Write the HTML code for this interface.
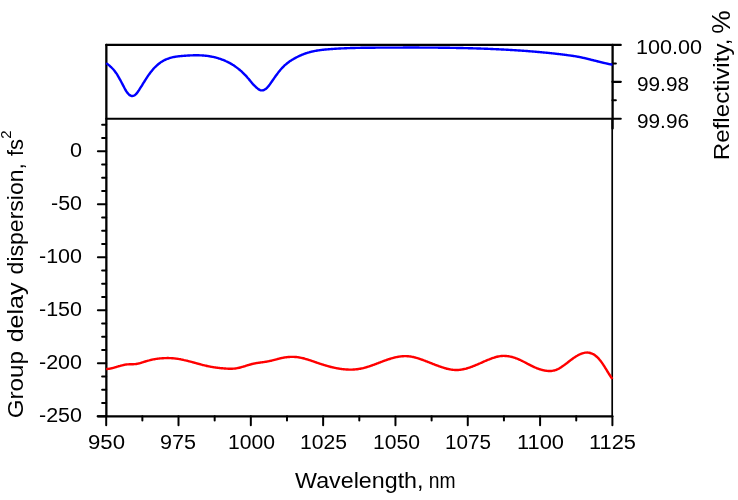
<!DOCTYPE html>
<html><head><meta charset="utf-8"><style>
html,body{margin:0;padding:0;background:#fff;width:738px;height:500px;overflow:hidden}
svg{display:block;will-change:transform}
text{font-family:"Liberation Sans", "DejaVu Sans", sans-serif;fill:#000}
</style></head><body>
<svg width="738" height="500" viewBox="0 0 738 500">
<rect width="738" height="500" fill="#fff"/>
<line x1="106.35" y1="44.90" x2="106.35" y2="416.30" stroke="#000" stroke-width="2.30" stroke-linecap="round"/>
<line x1="97.70" y1="416.30" x2="612.40" y2="416.30" stroke="#000" stroke-width="2.20" stroke-linecap="round"/>
<line x1="612.20" y1="118.80" x2="612.20" y2="416.30" stroke="#000" stroke-width="1.70" stroke-linecap="butt"/>
<line x1="106.20" y1="44.90" x2="620.80" y2="44.90" stroke="#000" stroke-width="2.10" stroke-linecap="round"/>
<line x1="106.20" y1="118.80" x2="620.80" y2="118.80" stroke="#000" stroke-width="2.00" stroke-linecap="round"/>
<line x1="612.60" y1="44.90" x2="612.60" y2="128.50" stroke="#000" stroke-width="2.30" stroke-linecap="round"/>
<line x1="612.40" y1="81.85" x2="620.80" y2="81.85" stroke="#000" stroke-width="2.20" stroke-linecap="round"/>
<line x1="612.40" y1="63.38" x2="615.90" y2="63.38" stroke="#000" stroke-width="2.00" stroke-linecap="round"/>
<line x1="612.40" y1="100.33" x2="615.90" y2="100.33" stroke="#000" stroke-width="2.00" stroke-linecap="round"/>
<line x1="102.10" y1="124.70" x2="106.20" y2="124.70" stroke="#000" stroke-width="2.00" stroke-linecap="round"/>
<line x1="102.10" y1="137.95" x2="106.20" y2="137.95" stroke="#000" stroke-width="2.00" stroke-linecap="round"/>
<line x1="97.90" y1="151.20" x2="106.20" y2="151.20" stroke="#000" stroke-width="2.00" stroke-linecap="round"/>
<line x1="102.10" y1="164.45" x2="106.20" y2="164.45" stroke="#000" stroke-width="2.00" stroke-linecap="round"/>
<line x1="102.10" y1="177.70" x2="106.20" y2="177.70" stroke="#000" stroke-width="2.00" stroke-linecap="round"/>
<line x1="102.10" y1="190.95" x2="106.20" y2="190.95" stroke="#000" stroke-width="2.00" stroke-linecap="round"/>
<line x1="97.90" y1="204.20" x2="106.20" y2="204.20" stroke="#000" stroke-width="2.00" stroke-linecap="round"/>
<line x1="102.10" y1="217.45" x2="106.20" y2="217.45" stroke="#000" stroke-width="2.00" stroke-linecap="round"/>
<line x1="102.10" y1="230.70" x2="106.20" y2="230.70" stroke="#000" stroke-width="2.00" stroke-linecap="round"/>
<line x1="102.10" y1="243.95" x2="106.20" y2="243.95" stroke="#000" stroke-width="2.00" stroke-linecap="round"/>
<line x1="97.90" y1="257.20" x2="106.20" y2="257.20" stroke="#000" stroke-width="2.00" stroke-linecap="round"/>
<line x1="102.10" y1="270.45" x2="106.20" y2="270.45" stroke="#000" stroke-width="2.00" stroke-linecap="round"/>
<line x1="102.10" y1="283.70" x2="106.20" y2="283.70" stroke="#000" stroke-width="2.00" stroke-linecap="round"/>
<line x1="102.10" y1="296.95" x2="106.20" y2="296.95" stroke="#000" stroke-width="2.00" stroke-linecap="round"/>
<line x1="97.90" y1="310.20" x2="106.20" y2="310.20" stroke="#000" stroke-width="2.00" stroke-linecap="round"/>
<line x1="102.10" y1="323.45" x2="106.20" y2="323.45" stroke="#000" stroke-width="2.00" stroke-linecap="round"/>
<line x1="102.10" y1="336.70" x2="106.20" y2="336.70" stroke="#000" stroke-width="2.00" stroke-linecap="round"/>
<line x1="102.10" y1="349.95" x2="106.20" y2="349.95" stroke="#000" stroke-width="2.00" stroke-linecap="round"/>
<line x1="97.90" y1="363.20" x2="106.20" y2="363.20" stroke="#000" stroke-width="2.00" stroke-linecap="round"/>
<line x1="102.10" y1="376.45" x2="106.20" y2="376.45" stroke="#000" stroke-width="2.00" stroke-linecap="round"/>
<line x1="102.10" y1="389.70" x2="106.20" y2="389.70" stroke="#000" stroke-width="2.00" stroke-linecap="round"/>
<line x1="102.10" y1="402.95" x2="106.20" y2="402.95" stroke="#000" stroke-width="2.00" stroke-linecap="round"/>
<line x1="97.90" y1="416.20" x2="106.20" y2="416.20" stroke="#000" stroke-width="2.00" stroke-linecap="round"/>
<line x1="106.20" y1="416.30" x2="106.20" y2="425.30" stroke="#000" stroke-width="2.00" stroke-linecap="round"/>
<line x1="142.36" y1="416.30" x2="142.36" y2="420.60" stroke="#000" stroke-width="2.00" stroke-linecap="round"/>
<line x1="178.51" y1="416.30" x2="178.51" y2="425.30" stroke="#000" stroke-width="2.00" stroke-linecap="round"/>
<line x1="214.67" y1="416.30" x2="214.67" y2="420.60" stroke="#000" stroke-width="2.00" stroke-linecap="round"/>
<line x1="250.83" y1="416.30" x2="250.83" y2="425.30" stroke="#000" stroke-width="2.00" stroke-linecap="round"/>
<line x1="286.99" y1="416.30" x2="286.99" y2="420.60" stroke="#000" stroke-width="2.00" stroke-linecap="round"/>
<line x1="323.14" y1="416.30" x2="323.14" y2="425.30" stroke="#000" stroke-width="2.00" stroke-linecap="round"/>
<line x1="359.30" y1="416.30" x2="359.30" y2="420.60" stroke="#000" stroke-width="2.00" stroke-linecap="round"/>
<line x1="395.46" y1="416.30" x2="395.46" y2="425.30" stroke="#000" stroke-width="2.00" stroke-linecap="round"/>
<line x1="431.61" y1="416.30" x2="431.61" y2="420.60" stroke="#000" stroke-width="2.00" stroke-linecap="round"/>
<line x1="467.77" y1="416.30" x2="467.77" y2="425.30" stroke="#000" stroke-width="2.00" stroke-linecap="round"/>
<line x1="503.93" y1="416.30" x2="503.93" y2="420.60" stroke="#000" stroke-width="2.00" stroke-linecap="round"/>
<line x1="540.09" y1="416.30" x2="540.09" y2="425.30" stroke="#000" stroke-width="2.00" stroke-linecap="round"/>
<line x1="576.24" y1="416.30" x2="576.24" y2="420.60" stroke="#000" stroke-width="2.00" stroke-linecap="round"/>
<line x1="612.40" y1="416.30" x2="612.40" y2="425.30" stroke="#000" stroke-width="2.00" stroke-linecap="round"/>
<path d="M106.20 63.14 C106.37 63.26 106.87 63.61 107.20 63.85 C107.53 64.09 107.87 64.35 108.20 64.61 C108.53 64.87 108.87 65.14 109.20 65.42 C109.53 65.70 109.87 65.99 110.20 66.29 C110.53 66.59 110.87 66.91 111.20 67.23 C111.53 67.56 111.87 67.89 112.20 68.24 C112.53 68.59 112.87 68.95 113.20 69.33 C113.53 69.71 113.87 70.11 114.20 70.52 C114.53 70.93 114.87 71.35 115.20 71.80 C115.53 72.25 115.87 72.71 116.20 73.19 C116.53 73.67 116.87 74.17 117.20 74.69 C117.53 75.21 117.87 75.75 118.20 76.31 C118.53 76.87 118.87 77.45 119.20 78.04 C119.53 78.63 119.87 79.25 120.20 79.87 C120.53 80.49 120.87 81.12 121.20 81.75 C121.53 82.38 121.87 83.03 122.20 83.67 C122.53 84.31 122.87 84.95 123.20 85.59 C123.53 86.23 123.87 86.86 124.20 87.48 C124.53 88.10 124.87 88.72 125.20 89.31 C125.53 89.90 125.87 90.48 126.20 91.01 C126.53 91.54 126.87 92.05 127.20 92.50 C127.53 92.95 127.87 93.36 128.20 93.73 C128.53 94.10 128.87 94.43 129.20 94.71 C129.53 94.99 129.87 95.22 130.20 95.41 C130.53 95.60 130.87 95.75 131.20 95.85 C131.53 95.95 131.87 96.00 132.20 96.01 C132.53 96.02 132.87 95.99 133.20 95.90 C133.53 95.81 133.87 95.68 134.20 95.50 C134.53 95.32 134.87 95.09 135.20 94.82 C135.53 94.55 135.87 94.22 136.20 93.86 C136.53 93.50 136.87 93.09 137.20 92.66 C137.53 92.23 137.87 91.77 138.20 91.29 C138.53 90.81 138.87 90.30 139.20 89.79 C139.53 89.28 139.87 88.75 140.20 88.22 C140.53 87.69 140.87 87.15 141.20 86.62 C141.53 86.09 141.87 85.56 142.20 85.02 C142.53 84.48 142.87 83.94 143.20 83.40 C143.53 82.86 143.87 82.33 144.20 81.80 C144.53 81.27 144.87 80.73 145.20 80.20 C145.53 79.67 145.87 79.16 146.20 78.64 C146.53 78.12 146.87 77.61 147.20 77.11 C147.53 76.61 147.87 76.11 148.20 75.62 C148.53 75.13 148.87 74.66 149.20 74.19 C149.53 73.72 149.87 73.27 150.20 72.83 C150.53 72.39 150.87 71.95 151.20 71.53 C151.53 71.11 151.87 70.70 152.20 70.30 C152.53 69.90 152.87 69.52 153.20 69.14 C153.53 68.77 153.87 68.40 154.20 68.05 C154.53 67.70 154.87 67.35 155.20 67.02 C155.53 66.69 155.87 66.36 156.20 66.05 C156.53 65.74 156.87 65.43 157.20 65.14 C157.53 64.85 157.87 64.56 158.20 64.29 C158.53 64.02 158.87 63.76 159.20 63.50 C159.53 63.24 159.87 63.00 160.20 62.76 C160.53 62.52 160.87 62.29 161.20 62.07 C161.53 61.85 161.87 61.63 162.20 61.43 C162.53 61.23 162.87 61.04 163.20 60.85 C163.53 60.66 163.87 60.47 164.20 60.30 C164.53 60.13 164.87 59.97 165.20 59.81 C165.53 59.65 165.87 59.50 166.20 59.35 C166.53 59.20 166.87 59.07 167.20 58.94 C167.53 58.81 167.87 58.68 168.20 58.56 C168.53 58.44 168.87 58.33 169.20 58.22 C169.53 58.11 169.87 58.01 170.20 57.91 C170.53 57.81 170.87 57.72 171.20 57.63 C171.53 57.54 171.87 57.46 172.20 57.38 C172.53 57.30 172.87 57.23 173.20 57.16 C173.53 57.09 173.87 57.02 174.20 56.96 C174.53 56.90 174.87 56.84 175.20 56.78 C175.53 56.72 175.87 56.67 176.20 56.62 C176.53 56.57 176.87 56.52 177.20 56.48 C177.53 56.44 177.87 56.40 178.20 56.36 C178.53 56.32 178.87 56.28 179.20 56.24 C179.53 56.20 179.87 56.17 180.20 56.14 C180.53 56.11 180.87 56.08 181.20 56.05 C181.53 56.02 181.87 55.99 182.20 55.96 C182.53 55.93 182.87 55.91 183.20 55.88 C183.53 55.85 183.87 55.83 184.20 55.80 C184.53 55.77 184.87 55.74 185.20 55.72 C185.53 55.70 185.87 55.67 186.20 55.65 C186.53 55.63 186.87 55.60 187.20 55.58 C187.53 55.56 187.87 55.54 188.20 55.52 C188.53 55.50 188.87 55.49 189.20 55.47 C189.53 55.45 189.87 55.44 190.20 55.42 C190.53 55.41 190.87 55.39 191.20 55.38 C191.53 55.37 191.87 55.35 192.20 55.34 C192.53 55.33 192.87 55.32 193.20 55.31 C193.53 55.30 193.87 55.30 194.20 55.29 C194.53 55.28 194.87 55.28 195.20 55.28 C195.53 55.28 195.87 55.27 196.20 55.27 C196.53 55.27 196.87 55.28 197.20 55.28 C197.53 55.28 197.87 55.28 198.20 55.29 C198.53 55.30 198.87 55.31 199.20 55.32 C199.53 55.33 199.87 55.34 200.20 55.35 C200.53 55.36 200.87 55.38 201.20 55.40 C201.53 55.42 201.87 55.43 202.20 55.45 C202.53 55.47 202.87 55.50 203.20 55.52 C203.53 55.55 203.87 55.57 204.20 55.60 C204.53 55.63 204.87 55.67 205.20 55.70 C205.53 55.73 205.87 55.76 206.20 55.80 C206.53 55.84 206.87 55.88 207.20 55.92 C207.53 55.96 207.87 56.00 208.20 56.05 C208.53 56.10 208.87 56.15 209.20 56.20 C209.53 56.25 209.87 56.30 210.20 56.36 C210.53 56.42 210.87 56.48 211.20 56.54 C211.53 56.60 211.87 56.66 212.20 56.73 C212.53 56.79 212.87 56.86 213.20 56.93 C213.53 57.00 213.87 57.08 214.20 57.16 C214.53 57.24 214.87 57.32 215.20 57.40 C215.53 57.48 215.87 57.57 216.20 57.66 C216.53 57.75 216.87 57.84 217.20 57.93 C217.53 58.02 217.87 58.12 218.20 58.22 C218.53 58.32 218.87 58.42 219.20 58.53 C219.53 58.64 219.87 58.75 220.20 58.86 C220.53 58.97 220.87 59.09 221.20 59.21 C221.53 59.33 221.87 59.45 222.20 59.58 C222.53 59.71 222.87 59.84 223.20 59.97 C223.53 60.10 223.87 60.24 224.20 60.38 C224.53 60.52 224.87 60.66 225.20 60.81 C225.53 60.96 225.87 61.10 226.20 61.26 C226.53 61.41 226.87 61.58 227.20 61.74 C227.53 61.90 227.87 62.06 228.20 62.23 C228.53 62.40 228.87 62.57 229.20 62.75 C229.53 62.93 229.87 63.11 230.20 63.30 C230.53 63.49 230.87 63.68 231.20 63.87 C231.53 64.06 231.87 64.26 232.20 64.46 C232.53 64.66 232.87 64.88 233.20 65.09 C233.53 65.30 233.87 65.52 234.20 65.74 C234.53 65.96 234.87 66.20 235.20 66.43 C235.53 66.66 235.87 66.90 236.20 67.14 C236.53 67.38 236.87 67.63 237.20 67.88 C237.53 68.13 237.87 68.39 238.20 68.66 C238.53 68.92 238.87 69.19 239.20 69.47 C239.53 69.75 239.87 70.03 240.20 70.32 C240.53 70.61 240.87 70.90 241.20 71.20 C241.53 71.50 241.87 71.81 242.20 72.12 C242.53 72.43 242.87 72.74 243.20 73.07 C243.53 73.39 243.87 73.73 244.20 74.07 C244.53 74.41 244.87 74.75 245.20 75.10 C245.53 75.45 245.87 75.81 246.20 76.17 C246.53 76.53 246.87 76.91 247.20 77.29 C247.53 77.67 247.87 78.05 248.20 78.44 C248.53 78.83 248.87 79.23 249.20 79.63 C249.53 80.03 249.87 80.45 250.20 80.86 C250.53 81.27 250.87 81.70 251.20 82.11 C251.53 82.52 251.87 82.92 252.20 83.31 C252.53 83.70 252.87 84.06 253.20 84.42 C253.53 84.78 253.87 85.12 254.20 85.45 C254.53 85.78 254.87 86.11 255.20 86.42 C255.53 86.73 255.87 87.05 256.20 87.34 C256.53 87.64 256.87 87.92 257.20 88.19 C257.53 88.46 257.87 88.72 258.20 88.95 C258.53 89.18 258.87 89.40 259.20 89.58 C259.53 89.76 259.87 89.92 260.20 90.05 C260.53 90.17 260.87 90.27 261.20 90.33 C261.53 90.39 261.87 90.42 262.20 90.41 C262.53 90.40 262.87 90.34 263.20 90.26 C263.53 90.18 263.87 90.05 264.20 89.90 C264.53 89.75 264.87 89.56 265.20 89.34 C265.53 89.12 265.87 88.86 266.20 88.58 C266.53 88.30 266.87 87.98 267.20 87.64 C267.53 87.30 267.87 86.93 268.20 86.53 C268.53 86.13 268.87 85.70 269.20 85.26 C269.53 84.82 269.87 84.35 270.20 83.88 C270.53 83.41 270.87 82.92 271.20 82.44 C271.53 81.96 271.87 81.48 272.20 81.00 C272.53 80.52 272.87 80.04 273.20 79.56 C273.53 79.08 273.87 78.59 274.20 78.12 C274.53 77.65 274.87 77.18 275.20 76.71 C275.53 76.24 275.87 75.78 276.20 75.32 C276.53 74.86 276.87 74.41 277.20 73.96 C277.53 73.51 277.87 73.06 278.20 72.63 C278.53 72.20 278.87 71.78 279.20 71.36 C279.53 70.94 279.87 70.53 280.20 70.13 C280.53 69.73 280.87 69.34 281.20 68.96 C281.53 68.58 281.87 68.21 282.20 67.85 C282.53 67.49 282.87 67.14 283.20 66.81 C283.53 66.48 283.87 66.15 284.20 65.84 C284.53 65.53 284.87 65.23 285.20 64.93 C285.53 64.64 285.87 64.35 286.20 64.07 C286.53 63.79 286.87 63.52 287.20 63.26 C287.53 63.00 287.87 62.75 288.20 62.50 C288.53 62.25 288.87 62.01 289.20 61.78 C289.53 61.55 289.87 61.32 290.20 61.10 C290.53 60.88 290.87 60.66 291.20 60.45 C291.53 60.24 291.87 60.03 292.20 59.83 C292.53 59.63 292.87 59.43 293.20 59.23 C293.53 59.03 293.87 58.84 294.20 58.65 C294.53 58.46 294.87 58.27 295.20 58.08 C295.53 57.89 295.87 57.71 296.20 57.53 C296.53 57.35 296.87 57.17 297.20 57.00 C297.53 56.83 297.87 56.66 298.20 56.49 C298.53 56.32 298.87 56.16 299.20 56.00 C299.53 55.84 299.87 55.69 300.20 55.54 C300.53 55.39 300.87 55.23 301.20 55.09 C301.53 54.95 301.87 54.81 302.20 54.67 C302.53 54.53 302.87 54.40 303.20 54.27 C303.53 54.14 303.87 54.01 304.20 53.89 C304.53 53.77 304.87 53.65 305.20 53.53 C305.53 53.41 305.87 53.30 306.20 53.19 C306.53 53.08 306.87 52.97 307.20 52.87 C307.53 52.77 307.87 52.67 308.20 52.57 C308.53 52.47 308.87 52.38 309.20 52.29 C309.53 52.20 309.87 52.11 310.20 52.02 C310.53 51.93 310.87 51.85 311.20 51.77 C311.53 51.69 311.87 51.61 312.20 51.53 C312.53 51.45 312.87 51.38 313.20 51.31 C313.53 51.24 313.87 51.18 314.20 51.11 C314.53 51.04 314.87 50.97 315.20 50.91 C315.53 50.85 315.87 50.79 316.20 50.73 C316.53 50.67 316.87 50.61 317.20 50.56 C317.53 50.51 317.87 50.46 318.20 50.41 C318.53 50.36 318.87 50.31 319.20 50.26 C319.53 50.21 319.87 50.16 320.20 50.12 C320.53 50.07 320.87 50.03 321.20 49.99 C321.53 49.95 321.87 49.91 322.20 49.87 C322.53 49.83 322.87 49.80 323.20 49.76 C323.53 49.72 323.87 49.69 324.20 49.65 C324.53 49.61 324.87 49.58 325.20 49.55 C325.53 49.52 325.87 49.49 326.20 49.46 C326.53 49.43 326.87 49.40 327.20 49.37 C327.53 49.34 327.87 49.31 328.20 49.28 C328.53 49.25 328.87 49.23 329.20 49.20 C329.53 49.17 329.87 49.15 330.20 49.12 C330.53 49.09 330.87 49.06 331.20 49.04 C331.53 49.02 331.87 48.99 332.20 48.97 C332.53 48.95 332.87 48.92 333.20 48.90 C333.53 48.88 333.87 48.85 334.20 48.83 C334.53 48.81 334.87 48.78 335.20 48.76 C335.53 48.74 335.87 48.72 336.20 48.70 C336.53 48.68 336.87 48.66 337.20 48.64 C337.53 48.62 337.87 48.60 338.20 48.58 C338.53 48.56 338.87 48.55 339.20 48.53 C339.53 48.51 339.87 48.49 340.20 48.47 C340.53 48.45 340.87 48.44 341.20 48.42 C341.53 48.41 341.87 48.40 342.20 48.38 C342.53 48.37 342.87 48.34 343.20 48.33 C343.53 48.31 343.87 48.30 344.20 48.29 C344.53 48.27 344.87 48.26 345.20 48.24 C345.53 48.23 345.87 48.21 346.20 48.20 C346.53 48.19 346.87 48.18 347.20 48.17 C347.53 48.16 347.87 48.14 348.20 48.13 C348.53 48.12 348.87 48.11 349.20 48.10 C349.53 48.09 349.87 48.07 350.20 48.06 C350.53 48.05 350.87 48.04 351.20 48.03 C351.53 48.02 351.87 48.01 352.20 48.00 C352.53 47.99 352.87 47.99 353.20 47.98 C353.53 47.97 353.87 47.96 354.20 47.95 C354.53 47.94 354.87 47.94 355.20 47.93 C355.53 47.92 355.87 47.91 356.20 47.90 C356.53 47.89 356.87 47.89 357.20 47.88 C357.53 47.87 357.87 47.87 358.20 47.86 C358.53 47.85 358.87 47.86 359.20 47.85 C359.53 47.84 359.87 47.84 360.20 47.83 C360.53 47.82 360.87 47.82 361.20 47.81 C361.53 47.80 361.87 47.80 362.20 47.80 C362.53 47.79 362.87 47.78 363.20 47.78 C363.53 47.78 363.87 47.77 364.20 47.77 C364.53 47.77 364.87 47.76 365.20 47.76 C365.53 47.76 365.87 47.75 366.20 47.75 C366.53 47.75 366.87 47.74 367.20 47.74 C367.53 47.74 367.87 47.73 368.20 47.73 C368.53 47.73 368.87 47.72 369.20 47.72 C369.53 47.72 369.87 47.71 370.20 47.71 C370.53 47.71 370.87 47.70 371.20 47.70 C371.53 47.70 371.87 47.70 372.20 47.70 C372.53 47.70 372.87 47.69 373.20 47.69 C373.53 47.69 373.87 47.68 374.20 47.68 C374.53 47.68 374.87 47.68 375.20 47.68 C375.53 47.68 375.87 47.67 376.20 47.67 C376.53 47.67 376.87 47.67 377.20 47.67 C377.53 47.67 377.87 47.66 378.20 47.66 C378.53 47.66 378.87 47.66 379.20 47.66 C379.53 47.66 379.87 47.66 380.20 47.66 C380.53 47.66 380.87 47.65 381.20 47.65 C381.53 47.65 381.87 47.65 382.20 47.65 C382.53 47.65 382.87 47.64 383.20 47.64 C383.53 47.64 383.87 47.64 384.20 47.64 C384.53 47.64 384.87 47.63 385.20 47.63 C385.53 47.63 385.87 47.63 386.20 47.63 C386.53 47.63 386.87 47.62 387.20 47.62 C387.53 47.62 387.87 47.62 388.20 47.62 C388.53 47.62 388.87 47.62 389.20 47.62 C389.53 47.62 389.87 47.61 390.20 47.61 C390.53 47.61 390.87 47.61 391.20 47.61 C391.53 47.61 391.87 47.61 392.20 47.61 C392.53 47.61 392.87 47.60 393.20 47.60 C393.53 47.60 393.87 47.60 394.20 47.60 C394.53 47.60 394.87 47.59 395.20 47.59 C395.53 47.59 395.87 47.59 396.20 47.59 C396.53 47.59 396.87 47.59 397.20 47.59 C397.53 47.59 397.87 47.59 398.20 47.59 C398.53 47.59 398.87 47.58 399.20 47.58 C399.53 47.58 399.87 47.58 400.20 47.58 C400.53 47.58 400.87 47.58 401.20 47.58 C401.53 47.58 401.87 47.58 402.20 47.58 C402.53 47.58 402.87 47.57 403.20 47.57 C403.53 47.57 403.87 47.57 404.20 47.57 C404.53 47.57 404.87 47.57 405.20 47.57 C405.53 47.57 405.87 47.57 406.20 47.57 C406.53 47.57 406.87 47.57 407.20 47.57 C407.53 47.57 407.87 47.57 408.20 47.57 C408.53 47.57 408.87 47.57 409.20 47.57 C409.53 47.57 409.87 47.57 410.20 47.57 C410.53 47.57 410.87 47.57 411.20 47.57 C411.53 47.57 411.87 47.57 412.20 47.57 C412.53 47.57 412.87 47.57 413.20 47.57 C413.53 47.57 413.87 47.57 414.20 47.57 C414.53 47.57 414.87 47.57 415.20 47.57 C415.53 47.57 415.87 47.57 416.20 47.57 C416.53 47.57 416.87 47.57 417.20 47.57 C417.53 47.57 417.87 47.57 418.20 47.57 C418.53 47.57 418.87 47.57 419.20 47.57 C419.53 47.57 419.87 47.58 420.20 47.58 C420.53 47.58 420.87 47.58 421.20 47.58 C421.53 47.58 421.87 47.58 422.20 47.58 C422.53 47.58 422.87 47.59 423.20 47.59 C423.53 47.59 423.87 47.59 424.20 47.59 C424.53 47.59 424.87 47.59 425.20 47.59 C425.53 47.59 425.87 47.60 426.20 47.60 C426.53 47.60 426.87 47.60 427.20 47.60 C427.53 47.60 427.87 47.61 428.20 47.61 C428.53 47.61 428.87 47.61 429.20 47.61 C429.53 47.61 429.87 47.62 430.20 47.62 C430.53 47.62 430.87 47.63 431.20 47.63 C431.53 47.63 431.87 47.63 432.20 47.63 C432.53 47.63 432.87 47.64 433.20 47.64 C433.53 47.64 433.87 47.65 434.20 47.65 C434.53 47.65 434.87 47.65 435.20 47.65 C435.53 47.65 435.87 47.66 436.20 47.66 C436.53 47.66 436.87 47.67 437.20 47.67 C437.53 47.67 437.87 47.68 438.20 47.68 C438.53 47.68 438.87 47.69 439.20 47.69 C439.53 47.69 439.87 47.70 440.20 47.70 C440.53 47.70 440.87 47.71 441.20 47.71 C441.53 47.71 441.87 47.72 442.20 47.72 C442.53 47.72 442.87 47.73 443.20 47.73 C443.53 47.73 443.87 47.73 444.20 47.74 C444.53 47.75 444.87 47.75 445.20 47.76 C445.53 47.77 445.87 47.77 446.20 47.77 C446.53 47.77 446.87 47.78 447.20 47.78 C447.53 47.78 447.87 47.79 448.20 47.80 C448.53 47.80 448.87 47.80 449.20 47.81 C449.53 47.82 449.87 47.82 450.20 47.83 C450.53 47.84 450.87 47.84 451.20 47.84 C451.53 47.85 451.87 47.86 452.20 47.86 C452.53 47.86 452.87 47.86 453.20 47.87 C453.53 47.88 453.87 47.88 454.20 47.89 C454.53 47.90 454.87 47.90 455.20 47.91 C455.53 47.92 455.87 47.92 456.20 47.93 C456.53 47.94 456.87 47.93 457.20 47.94 C457.53 47.95 457.87 47.95 458.20 47.96 C458.53 47.97 458.87 47.97 459.20 47.98 C459.53 47.99 459.87 47.99 460.20 48.00 C460.53 48.01 460.87 48.02 461.20 48.03 C461.53 48.04 461.87 48.04 462.20 48.05 C462.53 48.06 462.87 48.06 463.20 48.07 C463.53 48.08 463.87 48.08 464.20 48.09 C464.53 48.10 464.87 48.11 465.20 48.12 C465.53 48.13 465.87 48.13 466.20 48.14 C466.53 48.15 466.87 48.15 467.20 48.16 C467.53 48.17 467.87 48.18 468.20 48.19 C468.53 48.20 468.87 48.21 469.20 48.22 C469.53 48.23 469.87 48.23 470.20 48.24 C470.53 48.25 470.87 48.26 471.20 48.27 C471.53 48.28 471.87 48.29 472.20 48.30 C472.53 48.31 472.87 48.32 473.20 48.33 C473.53 48.34 473.87 48.35 474.20 48.36 C474.53 48.37 474.87 48.38 475.20 48.39 C475.53 48.40 475.87 48.41 476.20 48.42 C476.53 48.43 476.87 48.44 477.20 48.45 C477.53 48.46 477.87 48.47 478.20 48.48 C478.53 48.49 478.87 48.50 479.20 48.51 C479.53 48.52 479.87 48.54 480.20 48.55 C480.53 48.56 480.87 48.57 481.20 48.58 C481.53 48.59 481.87 48.61 482.20 48.62 C482.53 48.63 482.87 48.64 483.20 48.65 C483.53 48.66 483.87 48.68 484.20 48.69 C484.53 48.70 484.87 48.72 485.20 48.73 C485.53 48.74 485.87 48.75 486.20 48.76 C486.53 48.77 486.87 48.79 487.20 48.80 C487.53 48.81 487.87 48.83 488.20 48.84 C488.53 48.85 488.87 48.87 489.20 48.88 C489.53 48.89 489.87 48.91 490.20 48.92 C490.53 48.94 490.87 48.95 491.20 48.97 C491.53 48.98 491.87 49.00 492.20 49.01 C492.53 49.02 492.87 49.03 493.20 49.05 C493.53 49.06 493.87 49.09 494.20 49.10 C494.53 49.12 494.87 49.12 495.20 49.14 C495.53 49.16 495.87 49.17 496.20 49.19 C496.53 49.20 496.87 49.21 497.20 49.23 C497.53 49.24 497.87 49.26 498.20 49.28 C498.53 49.30 498.87 49.31 499.20 49.33 C499.53 49.35 499.87 49.36 500.20 49.38 C500.53 49.40 500.87 49.41 501.20 49.43 C501.53 49.45 501.87 49.46 502.20 49.48 C502.53 49.50 502.87 49.51 503.20 49.53 C503.53 49.55 503.87 49.57 504.20 49.59 C504.53 49.61 504.87 49.62 505.20 49.64 C505.53 49.66 505.87 49.68 506.20 49.70 C506.53 49.72 506.87 49.73 507.20 49.75 C507.53 49.77 507.87 49.79 508.20 49.81 C508.53 49.83 508.87 49.85 509.20 49.87 C509.53 49.89 509.87 49.91 510.20 49.93 C510.53 49.95 510.87 49.97 511.20 49.99 C511.53 50.01 511.87 50.03 512.20 50.05 C512.53 50.07 512.87 50.09 513.20 50.11 C513.53 50.13 513.87 50.15 514.20 50.17 C514.53 50.19 514.87 50.21 515.20 50.23 C515.53 50.25 515.87 50.28 516.20 50.30 C516.53 50.32 516.87 50.34 517.20 50.36 C517.53 50.38 517.87 50.41 518.20 50.43 C518.53 50.45 518.87 50.48 519.20 50.50 C519.53 50.52 519.87 50.54 520.20 50.56 C520.53 50.58 520.87 50.61 521.20 50.63 C521.53 50.65 521.87 50.68 522.20 50.70 C522.53 50.73 522.87 50.76 523.20 50.78 C523.53 50.80 523.87 50.83 524.20 50.85 C524.53 50.87 524.87 50.90 525.20 50.92 C525.53 50.95 525.87 50.98 526.20 51.00 C526.53 51.02 526.87 51.05 527.20 51.07 C527.53 51.09 527.87 51.12 528.20 51.15 C528.53 51.18 528.87 51.20 529.20 51.23 C529.53 51.25 529.87 51.27 530.20 51.30 C530.53 51.32 530.87 51.35 531.20 51.38 C531.53 51.41 531.87 51.44 532.20 51.47 C532.53 51.50 532.87 51.52 533.20 51.55 C533.53 51.58 533.87 51.60 534.20 51.63 C534.53 51.66 534.87 51.68 535.20 51.71 C535.53 51.74 535.87 51.77 536.20 51.80 C536.53 51.83 536.87 51.86 537.20 51.89 C537.53 51.92 537.87 51.94 538.20 51.97 C538.53 52.00 538.87 52.03 539.20 52.06 C539.53 52.09 539.87 52.12 540.20 52.15 C540.53 52.18 540.87 52.21 541.20 52.24 C541.53 52.27 541.87 52.31 542.20 52.34 C542.53 52.37 542.87 52.40 543.20 52.43 C543.53 52.46 543.87 52.49 544.20 52.52 C544.53 52.55 544.87 52.59 545.20 52.62 C545.53 52.65 545.87 52.69 546.20 52.72 C546.53 52.75 546.87 52.78 547.20 52.81 C547.53 52.84 547.87 52.88 548.20 52.91 C548.53 52.94 548.87 52.98 549.20 53.02 C549.53 53.06 549.87 53.09 550.20 53.12 C550.53 53.15 550.87 53.19 551.20 53.22 C551.53 53.25 551.87 53.30 552.20 53.33 C552.53 53.36 552.87 53.39 553.20 53.43 C553.53 53.47 553.87 53.50 554.20 53.54 C554.53 53.58 554.87 53.61 555.20 53.65 C555.53 53.69 555.87 53.72 556.20 53.76 C556.53 53.80 556.87 53.84 557.20 53.88 C557.53 53.92 557.87 53.95 558.20 53.99 C558.53 54.03 558.87 54.07 559.20 54.11 C559.53 54.15 559.87 54.18 560.20 54.22 C560.53 54.26 560.87 54.30 561.20 54.34 C561.53 54.38 561.87 54.42 562.20 54.46 C562.53 54.50 562.87 54.55 563.20 54.59 C563.53 54.63 563.87 54.67 564.20 54.71 C564.53 54.75 564.87 54.80 565.20 54.84 C565.53 54.88 565.87 54.93 566.20 54.97 C566.53 55.01 566.87 55.06 567.20 55.10 C567.53 55.14 567.87 55.18 568.20 55.23 C568.53 55.27 568.87 55.32 569.20 55.37 C569.53 55.41 569.87 55.45 570.20 55.50 C570.53 55.55 570.87 55.60 571.20 55.65 C571.53 55.70 571.87 55.75 572.20 55.80 C572.53 55.85 572.87 55.90 573.20 55.95 C573.53 56.00 573.87 56.06 574.20 56.11 C574.53 56.16 574.87 56.22 575.20 56.27 C575.53 56.33 575.87 56.38 576.20 56.44 C576.53 56.50 576.87 56.55 577.20 56.61 C577.53 56.67 577.87 56.74 578.20 56.80 C578.53 56.86 578.87 56.93 579.20 56.99 C579.53 57.05 579.87 57.11 580.20 57.18 C580.53 57.25 580.87 57.32 581.20 57.39 C581.53 57.46 581.87 57.53 582.20 57.60 C582.53 57.67 582.87 57.75 583.20 57.82 C583.53 57.89 583.87 57.96 584.20 58.04 C584.53 58.12 584.87 58.19 585.20 58.27 C585.53 58.35 585.87 58.42 586.20 58.50 C586.53 58.58 586.87 58.66 587.20 58.74 C587.53 58.82 587.87 58.90 588.20 58.98 C588.53 59.06 588.87 59.15 589.20 59.23 C589.53 59.31 589.87 59.39 590.20 59.47 C590.53 59.55 590.87 59.63 591.20 59.72 C591.53 59.80 591.87 59.89 592.20 59.98 C592.53 60.06 592.87 60.15 593.20 60.23 C593.53 60.31 593.87 60.39 594.20 60.48 C594.53 60.56 594.87 60.66 595.20 60.74 C595.53 60.83 595.87 60.91 596.20 60.99 C596.53 61.08 596.87 61.16 597.20 61.25 C597.53 61.34 597.87 61.42 598.20 61.50 C598.53 61.58 598.87 61.67 599.20 61.75 C599.53 61.83 599.87 61.92 600.20 62.00 C600.53 62.08 600.87 62.17 601.20 62.25 C601.53 62.33 601.87 62.41 602.20 62.49 C602.53 62.57 602.87 62.66 603.20 62.74 C603.53 62.82 603.87 62.89 604.20 62.97 C604.53 63.05 604.87 63.12 605.20 63.20 C605.53 63.28 605.87 63.36 606.20 63.43 C606.53 63.50 606.87 63.58 607.20 63.65 C607.53 63.72 607.87 63.80 608.20 63.87 C608.53 63.94 608.87 64.01 609.20 64.08 C609.53 64.15 609.87 64.22 610.20 64.28 C610.53 64.34 610.87 64.41 611.20 64.47 C611.53 64.53 612.00 64.62 612.20 64.66 C612.40 64.70 612.37 64.69 612.40 64.69" fill="none" stroke="#0000ff" stroke-width="2.40" stroke-linejoin="round"/>
<path d="M106.20 369.08 C106.37 369.07 106.87 369.05 107.20 369.02 C107.53 368.99 107.87 368.95 108.20 368.91 C108.53 368.87 108.87 368.82 109.20 368.77 C109.53 368.72 109.87 368.65 110.20 368.59 C110.53 368.52 110.87 368.45 111.20 368.38 C111.53 368.31 111.87 368.22 112.20 368.14 C112.53 368.06 112.87 367.98 113.20 367.89 C113.53 367.80 113.87 367.71 114.20 367.61 C114.53 367.51 114.87 367.42 115.20 367.32 C115.53 367.22 115.87 367.13 116.20 367.03 C116.53 366.93 116.87 366.82 117.20 366.72 C117.53 366.62 117.87 366.52 118.20 366.42 C118.53 366.32 118.87 366.23 119.20 366.13 C119.53 366.03 119.87 365.93 120.20 365.84 C120.53 365.75 120.87 365.65 121.20 365.56 C121.53 365.47 121.87 365.38 122.20 365.30 C122.53 365.22 122.87 365.14 123.20 365.07 C123.53 365.00 123.87 364.93 124.20 364.86 C124.53 364.80 124.87 364.74 125.20 364.68 C125.53 364.62 125.87 364.57 126.20 364.53 C126.53 364.49 126.87 364.45 127.20 364.42 C127.53 364.39 127.87 364.37 128.20 364.35 C128.53 364.33 128.87 364.32 129.20 364.31 C129.53 364.30 129.87 364.29 130.20 364.28 C130.53 364.27 130.87 364.27 131.20 364.26 C131.53 364.25 131.87 364.25 132.20 364.24 C132.53 364.23 132.87 364.22 133.20 364.21 C133.53 364.20 133.87 364.18 134.20 364.16 C134.53 364.14 134.87 364.11 135.20 364.08 C135.53 364.05 135.87 364.01 136.20 363.96 C136.53 363.91 136.87 363.86 137.20 363.80 C137.53 363.74 137.87 363.66 138.20 363.59 C138.53 363.51 138.87 363.44 139.20 363.35 C139.53 363.26 139.87 363.17 140.20 363.07 C140.53 362.97 140.87 362.88 141.20 362.78 C141.53 362.68 141.87 362.57 142.20 362.46 C142.53 362.35 142.87 362.25 143.20 362.14 C143.53 362.03 143.87 361.92 144.20 361.81 C144.53 361.70 144.87 361.60 145.20 361.49 C145.53 361.38 145.87 361.28 146.20 361.18 C146.53 361.08 146.87 360.98 147.20 360.88 C147.53 360.78 147.87 360.69 148.20 360.60 C148.53 360.51 148.87 360.42 149.20 360.34 C149.53 360.25 149.87 360.17 150.20 360.09 C150.53 360.01 150.87 359.94 151.20 359.86 C151.53 359.79 151.87 359.71 152.20 359.64 C152.53 359.57 152.87 359.50 153.20 359.44 C153.53 359.38 153.87 359.31 154.20 359.25 C154.53 359.19 154.87 359.13 155.20 359.08 C155.53 359.02 155.87 358.97 156.20 358.92 C156.53 358.87 156.87 358.82 157.20 358.77 C157.53 358.72 157.87 358.68 158.20 358.64 C158.53 358.60 158.87 358.57 159.20 358.53 C159.53 358.49 159.87 358.45 160.20 358.42 C160.53 358.39 160.87 358.36 161.20 358.33 C161.53 358.30 161.87 358.27 162.20 358.25 C162.53 358.23 162.87 358.21 163.20 358.19 C163.53 358.17 163.87 358.15 164.20 358.14 C164.53 358.12 164.87 358.11 165.20 358.10 C165.53 358.09 165.87 358.08 166.20 358.08 C166.53 358.07 166.87 358.07 167.20 358.07 C167.53 358.07 167.87 358.07 168.20 358.07 C168.53 358.07 168.87 358.08 169.20 358.09 C169.53 358.10 169.87 358.12 170.20 358.13 C170.53 358.14 170.87 358.15 171.20 358.17 C171.53 358.19 171.87 358.22 172.20 358.24 C172.53 358.26 172.87 358.28 173.20 358.31 C173.53 358.34 173.87 358.37 174.20 358.40 C174.53 358.43 174.87 358.47 175.20 358.51 C175.53 358.55 175.87 358.59 176.20 358.63 C176.53 358.67 176.87 358.72 177.20 358.77 C177.53 358.82 177.87 358.87 178.20 358.92 C178.53 358.97 178.87 359.02 179.20 359.08 C179.53 359.14 179.87 359.20 180.20 359.26 C180.53 359.32 180.87 359.38 181.20 359.45 C181.53 359.51 181.87 359.58 182.20 359.65 C182.53 359.72 182.87 359.79 183.20 359.86 C183.53 359.93 183.87 360.00 184.20 360.08 C184.53 360.15 184.87 360.23 185.20 360.31 C185.53 360.39 185.87 360.47 186.20 360.55 C186.53 360.63 186.87 360.71 187.20 360.79 C187.53 360.87 187.87 360.96 188.20 361.04 C188.53 361.12 188.87 361.21 189.20 361.30 C189.53 361.39 189.87 361.47 190.20 361.56 C190.53 361.65 190.87 361.74 191.20 361.83 C191.53 361.92 191.87 362.01 192.20 362.10 C192.53 362.19 192.87 362.28 193.20 362.37 C193.53 362.46 193.87 362.55 194.20 362.64 C194.53 362.73 194.87 362.83 195.20 362.92 C195.53 363.01 195.87 363.10 196.20 363.19 C196.53 363.28 196.87 363.38 197.20 363.47 C197.53 363.56 197.87 363.65 198.20 363.74 C198.53 363.83 198.87 363.92 199.20 364.01 C199.53 364.10 199.87 364.19 200.20 364.28 C200.53 364.37 200.87 364.45 201.20 364.54 C201.53 364.63 201.87 364.71 202.20 364.80 C202.53 364.89 202.87 364.98 203.20 365.06 C203.53 365.14 203.87 365.23 204.20 365.31 C204.53 365.39 204.87 365.47 205.20 365.55 C205.53 365.63 205.87 365.70 206.20 365.78 C206.53 365.86 206.87 365.94 207.20 366.01 C207.53 366.08 207.87 366.15 208.20 366.22 C208.53 366.29 208.87 366.36 209.20 366.43 C209.53 366.50 209.87 366.56 210.20 366.62 C210.53 366.68 210.87 366.75 211.20 366.81 C211.53 366.87 211.87 366.92 212.20 366.98 C212.53 367.04 212.87 367.09 213.20 367.15 C213.53 367.20 213.87 367.26 214.20 367.31 C214.53 367.36 214.87 367.40 215.20 367.45 C215.53 367.50 215.87 367.54 216.20 367.59 C216.53 367.64 216.87 367.69 217.20 367.73 C217.53 367.77 217.87 367.81 218.20 367.85 C218.53 367.89 218.87 367.92 219.20 367.96 C219.53 368.00 219.87 368.03 220.20 368.07 C220.53 368.11 220.87 368.15 221.20 368.18 C221.53 368.21 221.87 368.24 222.20 368.27 C222.53 368.30 222.87 368.33 223.20 368.36 C223.53 368.39 223.87 368.41 224.20 368.44 C224.53 368.47 224.87 368.50 225.20 368.52 C225.53 368.54 225.87 368.57 226.20 368.59 C226.53 368.61 226.87 368.63 227.20 368.65 C227.53 368.67 227.87 368.69 228.20 368.70 C228.53 368.71 228.87 368.72 229.20 368.73 C229.53 368.74 229.87 368.74 230.20 368.74 C230.53 368.74 230.87 368.75 231.20 368.74 C231.53 368.74 231.87 368.72 232.20 368.71 C232.53 368.70 232.87 368.68 233.20 368.66 C233.53 368.64 233.87 368.62 234.20 368.59 C234.53 368.56 234.87 368.52 235.20 368.48 C235.53 368.44 235.87 368.40 236.20 368.35 C236.53 368.30 236.87 368.24 237.20 368.18 C237.53 368.12 237.87 368.05 238.20 367.98 C238.53 367.91 238.87 367.84 239.20 367.76 C239.53 367.68 239.87 367.60 240.20 367.51 C240.53 367.42 240.87 367.33 241.20 367.24 C241.53 367.15 241.87 367.06 242.20 366.96 C242.53 366.86 242.87 366.76 243.20 366.66 C243.53 366.56 243.87 366.46 244.20 366.36 C244.53 366.26 244.87 366.16 245.20 366.05 C245.53 365.94 245.87 365.84 246.20 365.73 C246.53 365.62 246.87 365.52 247.20 365.42 C247.53 365.32 247.87 365.21 248.20 365.11 C248.53 365.01 248.87 364.90 249.20 364.80 C249.53 364.70 249.87 364.60 250.20 364.51 C250.53 364.42 250.87 364.33 251.20 364.24 C251.53 364.15 251.87 364.06 252.20 363.98 C252.53 363.90 252.87 363.81 253.20 363.74 C253.53 363.67 253.87 363.60 254.20 363.53 C254.53 363.46 254.87 363.39 255.20 363.33 C255.53 363.27 255.87 363.21 256.20 363.15 C256.53 363.09 256.87 363.04 257.20 362.99 C257.53 362.94 257.87 362.88 258.20 362.83 C258.53 362.78 258.87 362.74 259.20 362.69 C259.53 362.64 259.87 362.60 260.20 362.55 C260.53 362.50 260.87 362.46 261.20 362.41 C261.53 362.37 261.87 362.32 262.20 362.28 C262.53 362.23 262.87 362.19 263.20 362.14 C263.53 362.09 263.87 362.05 264.20 362.00 C264.53 361.95 264.87 361.91 265.20 361.86 C265.53 361.81 265.87 361.75 266.20 361.70 C266.53 361.64 266.87 361.59 267.20 361.53 C267.53 361.47 267.87 361.41 268.20 361.35 C268.53 361.29 268.87 361.22 269.20 361.15 C269.53 361.08 269.87 361.01 270.20 360.94 C270.53 360.87 270.87 360.79 271.20 360.71 C271.53 360.63 271.87 360.54 272.20 360.46 C272.53 360.38 272.87 360.29 273.20 360.21 C273.53 360.12 273.87 360.04 274.20 359.95 C274.53 359.86 274.87 359.78 275.20 359.69 C275.53 359.60 275.87 359.51 276.20 359.42 C276.53 359.33 276.87 359.25 277.20 359.16 C277.53 359.07 277.87 358.99 278.20 358.90 C278.53 358.81 278.87 358.72 279.20 358.64 C279.53 358.56 279.87 358.48 280.20 358.40 C280.53 358.32 280.87 358.24 281.20 358.16 C281.53 358.08 281.87 358.01 282.20 357.94 C282.53 357.87 282.87 357.81 283.20 357.74 C283.53 357.68 283.87 357.61 284.20 357.55 C284.53 357.49 284.87 357.44 285.20 357.39 C285.53 357.34 285.87 357.29 286.20 357.25 C286.53 357.21 286.87 357.17 287.20 357.13 C287.53 357.09 287.87 357.06 288.20 357.03 C288.53 357.00 288.87 356.98 289.20 356.96 C289.53 356.94 289.87 356.91 290.20 356.90 C290.53 356.88 290.87 356.88 291.20 356.87 C291.53 356.87 291.87 356.87 292.20 356.87 C292.53 356.87 292.87 356.87 293.20 356.88 C293.53 356.89 293.87 356.90 294.20 356.92 C294.53 356.94 294.87 356.96 295.20 356.98 C295.53 357.00 295.87 357.03 296.20 357.06 C296.53 357.09 296.87 357.12 297.20 357.16 C297.53 357.20 297.87 357.24 298.20 357.29 C298.53 357.34 298.87 357.39 299.20 357.44 C299.53 357.49 299.87 357.55 300.20 357.61 C300.53 357.67 300.87 357.74 301.20 357.81 C301.53 357.88 301.87 357.95 302.20 358.03 C302.53 358.10 302.87 358.18 303.20 358.26 C303.53 358.34 303.87 358.43 304.20 358.52 C304.53 358.61 304.87 358.70 305.20 358.79 C305.53 358.88 305.87 358.98 306.20 359.08 C306.53 359.18 306.87 359.28 307.20 359.38 C307.53 359.48 307.87 359.59 308.20 359.70 C308.53 359.81 308.87 359.91 309.20 360.02 C309.53 360.13 309.87 360.24 310.20 360.35 C310.53 360.46 310.87 360.57 311.20 360.69 C311.53 360.81 311.87 360.93 312.20 361.04 C312.53 361.16 312.87 361.26 313.20 361.38 C313.53 361.50 313.87 361.61 314.20 361.73 C314.53 361.85 314.87 361.96 315.20 362.08 C315.53 362.20 315.87 362.31 316.20 362.43 C316.53 362.55 316.87 362.66 317.20 362.78 C317.53 362.89 317.87 363.01 318.20 363.12 C318.53 363.23 318.87 363.34 319.20 363.45 C319.53 363.56 319.87 363.67 320.20 363.78 C320.53 363.89 320.87 364.00 321.20 364.11 C321.53 364.22 321.87 364.32 322.20 364.43 C322.53 364.54 322.87 364.64 323.20 364.74 C323.53 364.84 323.87 364.95 324.20 365.05 C324.53 365.15 324.87 365.25 325.20 365.35 C325.53 365.45 325.87 365.55 326.20 365.65 C326.53 365.75 326.87 365.84 327.20 365.93 C327.53 366.02 327.87 366.12 328.20 366.21 C328.53 366.30 328.87 366.39 329.20 366.48 C329.53 366.57 329.87 366.66 330.20 366.75 C330.53 366.84 330.87 366.92 331.20 367.00 C331.53 367.08 331.87 367.16 332.20 367.24 C332.53 367.32 332.87 367.40 333.20 367.48 C333.53 367.56 333.87 367.63 334.20 367.70 C334.53 367.77 334.87 367.85 335.20 367.92 C335.53 367.99 335.87 368.06 336.20 368.12 C336.53 368.19 336.87 368.25 337.20 368.31 C337.53 368.37 337.87 368.43 338.20 368.49 C338.53 368.55 338.87 368.61 339.20 368.66 C339.53 368.72 339.87 368.77 340.20 368.82 C340.53 368.87 340.87 368.91 341.20 368.96 C341.53 369.00 341.87 369.05 342.20 369.09 C342.53 369.13 342.87 369.17 343.20 369.21 C343.53 369.25 343.87 369.28 344.20 369.31 C344.53 369.34 344.87 369.37 345.20 369.40 C345.53 369.43 345.87 369.45 346.20 369.47 C346.53 369.49 346.87 369.51 347.20 369.53 C347.53 369.55 347.87 369.56 348.20 369.57 C348.53 369.58 348.87 369.59 349.20 369.60 C349.53 369.61 349.87 369.61 350.20 369.61 C350.53 369.61 350.87 369.62 351.20 369.61 C351.53 369.61 351.87 369.59 352.20 369.58 C352.53 369.57 352.87 369.56 353.20 369.54 C353.53 369.52 353.87 369.50 354.20 369.48 C354.53 369.46 354.87 369.44 355.20 369.41 C355.53 369.38 355.87 369.35 356.20 369.31 C356.53 369.27 356.87 369.24 357.20 369.20 C357.53 369.16 357.87 369.11 358.20 369.06 C358.53 369.01 358.87 368.97 359.20 368.91 C359.53 368.86 359.87 368.79 360.20 368.73 C360.53 368.67 360.87 368.61 361.20 368.54 C361.53 368.47 361.87 368.39 362.20 368.32 C362.53 368.25 362.87 368.17 363.20 368.09 C363.53 368.01 363.87 367.93 364.20 367.84 C364.53 367.75 364.87 367.66 365.20 367.57 C365.53 367.48 365.87 367.39 366.20 367.29 C366.53 367.19 366.87 367.09 367.20 366.99 C367.53 366.89 367.87 366.79 368.20 366.68 C368.53 366.57 368.87 366.46 369.20 366.35 C369.53 366.24 369.87 366.13 370.20 366.02 C370.53 365.91 370.87 365.79 371.20 365.67 C371.53 365.55 371.87 365.44 372.20 365.32 C372.53 365.20 372.87 365.08 373.20 364.96 C373.53 364.84 373.87 364.71 374.20 364.59 C374.53 364.47 374.87 364.35 375.20 364.22 C375.53 364.10 375.87 363.97 376.20 363.84 C376.53 363.71 376.87 363.59 377.20 363.46 C377.53 363.33 377.87 363.21 378.20 363.08 C378.53 362.95 378.87 362.83 379.20 362.70 C379.53 362.57 379.87 362.45 380.20 362.32 C380.53 362.19 380.87 362.07 381.20 361.94 C381.53 361.81 381.87 361.69 382.20 361.56 C382.53 361.43 382.87 361.31 383.20 361.18 C383.53 361.06 383.87 360.93 384.20 360.81 C384.53 360.69 384.87 360.57 385.20 360.45 C385.53 360.33 385.87 360.22 386.20 360.10 C386.53 359.98 386.87 359.87 387.20 359.75 C387.53 359.63 387.87 359.52 388.20 359.41 C388.53 359.30 388.87 359.19 389.20 359.08 C389.53 358.97 389.87 358.86 390.20 358.76 C390.53 358.66 390.87 358.56 391.20 358.46 C391.53 358.36 391.87 358.26 392.20 358.17 C392.53 358.08 392.87 357.99 393.20 357.90 C393.53 357.81 393.87 357.72 394.20 357.64 C394.53 357.56 394.87 357.48 395.20 357.40 C395.53 357.32 395.87 357.24 396.20 357.17 C396.53 357.10 396.87 357.04 397.20 356.97 C397.53 356.91 397.87 356.84 398.20 356.78 C398.53 356.72 398.87 356.67 399.20 356.62 C399.53 356.57 399.87 356.52 400.20 356.48 C400.53 356.44 400.87 356.40 401.20 356.36 C401.53 356.32 401.87 356.29 402.20 356.26 C402.53 356.23 402.87 356.21 403.20 356.19 C403.53 356.17 403.87 356.16 404.20 356.15 C404.53 356.14 404.87 356.13 405.20 356.13 C405.53 356.13 405.87 356.13 406.20 356.14 C406.53 356.15 406.87 356.16 407.20 356.18 C407.53 356.20 407.87 356.22 408.20 356.25 C408.53 356.28 408.87 356.31 409.20 356.35 C409.53 356.39 409.87 356.43 410.20 356.48 C410.53 356.53 410.87 356.57 411.20 356.63 C411.53 356.69 411.87 356.75 412.20 356.82 C412.53 356.88 412.87 356.95 413.20 357.02 C413.53 357.09 413.87 357.18 414.20 357.26 C414.53 357.34 414.87 357.42 415.20 357.51 C415.53 357.60 415.87 357.68 416.20 357.78 C416.53 357.88 416.87 357.98 417.20 358.08 C417.53 358.18 417.87 358.27 418.20 358.38 C418.53 358.49 418.87 358.60 419.20 358.71 C419.53 358.82 419.87 358.94 420.20 359.05 C420.53 359.16 420.87 359.27 421.20 359.39 C421.53 359.51 421.87 359.63 422.20 359.75 C422.53 359.87 422.87 360.00 423.20 360.12 C423.53 360.25 423.87 360.37 424.20 360.50 C424.53 360.63 424.87 360.75 425.20 360.88 C425.53 361.01 425.87 361.14 426.20 361.27 C426.53 361.40 426.87 361.53 427.20 361.66 C427.53 361.79 427.87 361.92 428.20 362.05 C428.53 362.18 428.87 362.31 429.20 362.44 C429.53 362.57 429.87 362.71 430.20 362.84 C430.53 362.97 430.87 363.10 431.20 363.23 C431.53 363.36 431.87 363.49 432.20 363.62 C432.53 363.75 432.87 363.88 433.20 364.01 C433.53 364.14 433.87 364.27 434.20 364.40 C434.53 364.53 434.87 364.66 435.20 364.79 C435.53 364.92 435.87 365.05 436.20 365.17 C436.53 365.30 436.87 365.42 437.20 365.54 C437.53 365.66 437.87 365.79 438.20 365.91 C438.53 366.03 438.87 366.15 439.20 366.27 C439.53 366.39 439.87 366.50 440.20 366.62 C440.53 366.74 440.87 366.86 441.20 366.97 C441.53 367.08 441.87 367.19 442.20 367.30 C442.53 367.41 442.87 367.51 443.20 367.62 C443.53 367.73 443.87 367.83 444.20 367.93 C444.53 368.03 444.87 368.13 445.20 368.23 C445.53 368.33 445.87 368.41 446.20 368.50 C446.53 368.59 446.87 368.68 447.20 368.76 C447.53 368.84 447.87 368.92 448.20 369.00 C448.53 369.08 448.87 369.15 449.20 369.22 C449.53 369.29 449.87 369.35 450.20 369.41 C450.53 369.47 450.87 369.53 451.20 369.58 C451.53 369.63 451.87 369.68 452.20 369.72 C452.53 369.76 452.87 369.81 453.20 369.84 C453.53 369.87 453.87 369.90 454.20 369.92 C454.53 369.94 454.87 369.97 455.20 369.98 C455.53 369.99 455.87 370.00 456.20 370.00 C456.53 370.00 456.87 369.99 457.20 369.98 C457.53 369.97 457.87 369.96 458.20 369.94 C458.53 369.92 458.87 369.89 459.20 369.86 C459.53 369.83 459.87 369.79 460.20 369.75 C460.53 369.71 460.87 369.67 461.20 369.62 C461.53 369.57 461.87 369.51 462.20 369.45 C462.53 369.39 462.87 369.33 463.20 369.26 C463.53 369.19 463.87 369.12 464.20 369.04 C464.53 368.96 464.87 368.88 465.20 368.80 C465.53 368.72 465.87 368.63 466.20 368.54 C466.53 368.45 466.87 368.35 467.20 368.25 C467.53 368.15 467.87 368.05 468.20 367.95 C468.53 367.85 468.87 367.74 469.20 367.63 C469.53 367.52 469.87 367.41 470.20 367.29 C470.53 367.17 470.87 367.05 471.20 366.93 C471.53 366.81 471.87 366.69 472.20 366.56 C472.53 366.44 472.87 366.31 473.20 366.18 C473.53 366.05 473.87 365.91 474.20 365.78 C474.53 365.64 474.87 365.51 475.20 365.37 C475.53 365.23 475.87 365.10 476.20 364.96 C476.53 364.82 476.87 364.67 477.20 364.53 C477.53 364.39 477.87 364.24 478.20 364.10 C478.53 363.96 478.87 363.81 479.20 363.67 C479.53 363.53 479.87 363.38 480.20 363.23 C480.53 363.08 480.87 362.94 481.20 362.79 C481.53 362.64 481.87 362.49 482.20 362.34 C482.53 362.19 482.87 362.05 483.20 361.90 C483.53 361.75 483.87 361.61 484.20 361.46 C484.53 361.31 484.87 361.16 485.20 361.02 C485.53 360.88 485.87 360.73 486.20 360.59 C486.53 360.45 486.87 360.30 487.20 360.16 C487.53 360.02 487.87 359.88 488.20 359.74 C488.53 359.60 488.87 359.46 489.20 359.33 C489.53 359.19 489.87 359.06 490.20 358.93 C490.53 358.80 490.87 358.67 491.20 358.55 C491.53 358.43 491.87 358.31 492.20 358.19 C492.53 358.07 492.87 357.96 493.20 357.85 C493.53 357.74 493.87 357.63 494.20 357.53 C494.53 357.43 494.87 357.33 495.20 357.23 C495.53 357.13 495.87 357.04 496.20 356.95 C496.53 356.86 496.87 356.79 497.20 356.71 C497.53 356.63 497.87 356.56 498.20 356.49 C498.53 356.42 498.87 356.37 499.20 356.31 C499.53 356.25 499.87 356.20 500.20 356.16 C500.53 356.12 500.87 356.08 501.20 356.05 C501.53 356.02 501.87 355.99 502.20 355.97 C502.53 355.95 502.87 355.93 503.20 355.92 C503.53 355.91 503.87 355.91 504.20 355.91 C504.53 355.91 504.87 355.93 505.20 355.94 C505.53 355.95 505.87 355.98 506.20 356.00 C506.53 356.02 506.87 356.05 507.20 356.09 C507.53 356.12 507.87 356.16 508.20 356.21 C508.53 356.26 508.87 356.31 509.20 356.37 C509.53 356.43 509.87 356.49 510.20 356.56 C510.53 356.63 510.87 356.70 511.20 356.78 C511.53 356.86 511.87 356.94 512.20 357.03 C512.53 357.12 512.87 357.20 513.20 357.30 C513.53 357.40 513.87 357.50 514.20 357.61 C514.53 357.72 514.87 357.83 515.20 357.95 C515.53 358.07 515.87 358.19 516.20 358.32 C516.53 358.45 516.87 358.57 517.20 358.71 C517.53 358.84 517.87 358.99 518.20 359.13 C518.53 359.27 518.87 359.42 519.20 359.57 C519.53 359.72 519.87 359.87 520.20 360.03 C520.53 360.19 520.87 360.35 521.20 360.51 C521.53 360.67 521.87 360.83 522.20 361.00 C522.53 361.17 522.87 361.34 523.20 361.51 C523.53 361.68 523.87 361.86 524.20 362.03 C524.53 362.20 524.87 362.38 525.20 362.55 C525.53 362.72 525.87 362.89 526.20 363.07 C526.53 363.25 526.87 363.43 527.20 363.60 C527.53 363.78 527.87 363.95 528.20 364.12 C528.53 364.29 528.87 364.47 529.20 364.64 C529.53 364.81 529.87 364.99 530.20 365.16 C530.53 365.33 530.87 365.49 531.20 365.66 C531.53 365.83 531.87 366.00 532.20 366.16 C532.53 366.32 532.87 366.48 533.20 366.63 C533.53 366.78 533.87 366.94 534.20 367.09 C534.53 367.24 534.87 367.38 535.20 367.53 C535.53 367.67 535.87 367.82 536.20 367.96 C536.53 368.10 536.87 368.23 537.20 368.36 C537.53 368.49 537.87 368.62 538.20 368.74 C538.53 368.86 538.87 368.98 539.20 369.09 C539.53 369.20 539.87 369.31 540.20 369.42 C540.53 369.53 540.87 369.62 541.20 369.72 C541.53 369.82 541.87 369.90 542.20 369.99 C542.53 370.08 542.87 370.16 543.20 370.24 C543.53 370.32 543.87 370.38 544.20 370.45 C544.53 370.51 544.87 370.57 545.20 370.63 C545.53 370.69 545.87 370.74 546.20 370.78 C546.53 370.82 546.87 370.86 547.20 370.89 C547.53 370.92 547.87 370.94 548.20 370.96 C548.53 370.98 548.87 370.99 549.20 371.00 C549.53 371.01 549.87 371.01 550.20 371.00 C550.53 370.99 550.87 370.97 551.20 370.95 C551.53 370.93 551.87 370.89 552.20 370.85 C552.53 370.81 552.87 370.75 553.20 370.69 C553.53 370.63 553.87 370.56 554.20 370.48 C554.53 370.40 554.87 370.31 555.20 370.21 C555.53 370.11 555.87 370.00 556.20 369.87 C556.53 369.74 556.87 369.60 557.20 369.45 C557.53 369.30 557.87 369.14 558.20 368.97 C558.53 368.80 558.87 368.63 559.20 368.44 C559.53 368.25 559.87 368.04 560.20 367.84 C560.53 367.63 560.87 367.43 561.20 367.21 C561.53 366.99 561.87 366.76 562.20 366.53 C562.53 366.30 562.87 366.07 563.20 365.83 C563.53 365.59 563.87 365.35 564.20 365.10 C564.53 364.85 564.87 364.60 565.20 364.35 C565.53 364.10 565.87 363.84 566.20 363.59 C566.53 363.33 566.87 363.08 567.20 362.82 C567.53 362.56 567.87 362.31 568.20 362.05 C568.53 361.79 568.87 361.53 569.20 361.28 C569.53 361.02 569.87 360.77 570.20 360.52 C570.53 360.27 570.87 360.02 571.20 359.77 C571.53 359.52 571.87 359.27 572.20 359.03 C572.53 358.79 572.87 358.55 573.20 358.31 C573.53 358.07 573.87 357.84 574.20 357.61 C574.53 357.38 574.87 357.17 575.20 356.95 C575.53 356.73 575.87 356.52 576.20 356.31 C576.53 356.10 576.87 355.89 577.20 355.70 C577.53 355.50 577.87 355.32 578.20 355.14 C578.53 354.96 578.87 354.79 579.20 354.62 C579.53 354.45 579.87 354.30 580.20 354.15 C580.53 354.00 580.87 353.87 581.20 353.74 C581.53 353.61 581.87 353.48 582.20 353.37 C582.53 353.26 582.87 353.17 583.20 353.08 C583.53 352.99 583.87 352.91 584.20 352.84 C584.53 352.77 584.87 352.71 585.20 352.67 C585.53 352.63 585.87 352.60 586.20 352.58 C586.53 352.56 586.87 352.56 587.20 352.56 C587.53 352.56 587.87 352.58 588.20 352.61 C588.53 352.64 588.87 352.69 589.20 352.75 C589.53 352.81 589.87 352.88 590.20 352.97 C590.53 353.06 590.87 353.15 591.20 353.27 C591.53 353.39 591.87 353.52 592.20 353.67 C592.53 353.82 592.87 353.97 593.20 354.15 C593.53 354.33 593.87 354.53 594.20 354.74 C594.53 354.95 594.87 355.18 595.20 355.42 C595.53 355.67 595.87 355.93 596.20 356.21 C596.53 356.49 596.87 356.79 597.20 357.10 C597.53 357.41 597.87 357.74 598.20 358.09 C598.53 358.44 598.87 358.81 599.20 359.20 C599.53 359.59 599.87 360.00 600.20 360.43 C600.53 360.86 600.87 361.30 601.20 361.76 C601.53 362.22 601.87 362.69 602.20 363.18 C602.53 363.67 602.87 364.16 603.20 364.67 C603.53 365.18 603.87 365.71 604.20 366.23 C604.53 366.75 604.87 367.29 605.20 367.82 C605.53 368.35 605.87 368.89 606.20 369.43 C606.53 369.97 606.87 370.51 607.20 371.05 C607.53 371.59 607.87 372.13 608.20 372.66 C608.53 373.19 608.87 373.72 609.20 374.24 C609.53 374.76 609.87 375.27 610.20 375.77 C610.53 376.27 610.87 376.77 611.20 377.25 C611.53 377.73 612.00 378.36 612.20 378.64 C612.40 378.92 612.37 378.87 612.40 378.91" fill="none" stroke="#ff0000" stroke-width="2.40" stroke-linejoin="round"/>
<text x="88.00" y="448.80" font-size="20" textLength="37.00" lengthAdjust="spacingAndGlyphs">950</text>
<text x="160.00" y="448.80" font-size="20" textLength="36.00" lengthAdjust="spacingAndGlyphs">975</text>
<text x="228.00" y="448.80" font-size="20" textLength="47.00" lengthAdjust="spacingAndGlyphs">1000</text>
<text x="300.00" y="448.80" font-size="20" textLength="47.00" lengthAdjust="spacingAndGlyphs">1025</text>
<text x="373.00" y="448.80" font-size="20" textLength="47.00" lengthAdjust="spacingAndGlyphs">1050</text>
<text x="445.00" y="448.80" font-size="20" textLength="46.00" lengthAdjust="spacingAndGlyphs">1075</text>
<text x="517.00" y="448.80" font-size="20" textLength="47.00" lengthAdjust="spacingAndGlyphs">1100</text>
<text x="589.00" y="448.80" font-size="20" textLength="47.00" lengthAdjust="spacingAndGlyphs">1125</text>
<text x="70.00" y="157.20" font-size="20" textLength="12.00" lengthAdjust="spacingAndGlyphs">0</text>
<text x="51.00" y="210.20" font-size="20" textLength="31.00" lengthAdjust="spacingAndGlyphs">-50</text>
<text x="39.00" y="263.20" font-size="20" textLength="43.00" lengthAdjust="spacingAndGlyphs">-100</text>
<text x="39.00" y="316.20" font-size="20" textLength="43.00" lengthAdjust="spacingAndGlyphs">-150</text>
<text x="39.00" y="369.20" font-size="20" textLength="43.00" lengthAdjust="spacingAndGlyphs">-200</text>
<text x="39.00" y="422.20" font-size="20" textLength="43.00" lengthAdjust="spacingAndGlyphs">-250</text>
<text x="636.00" y="53.80" font-size="20" textLength="66.00" lengthAdjust="spacingAndGlyphs">100.00</text>
<text x="637.00" y="90.65" font-size="20" textLength="52.00" lengthAdjust="spacingAndGlyphs">99.98</text>
<text x="637.00" y="127.50" font-size="20" textLength="52.00" lengthAdjust="spacingAndGlyphs">99.96</text>
<text x="295.10" y="487.80" font-size="22" textLength="128.40" lengthAdjust="spacingAndGlyphs">Wavelength,</text>
<text x="428.80" y="487.80" font-size="22" textLength="26.80" lengthAdjust="spacingAndGlyphs">nm</text>
<text transform="translate(23.20 418.30) rotate(-90)" font-size="22" textLength="67.20" lengthAdjust="spacingAndGlyphs">Group</text>
<text transform="translate(23.20 342.30) rotate(-90)" font-size="22" textLength="59.80" lengthAdjust="spacingAndGlyphs">delay</text>
<text transform="translate(23.20 274.40) rotate(-90)" font-size="22" textLength="111.40" lengthAdjust="spacingAndGlyphs">dispersion,</text>
<text transform="translate(23.20 156.00) rotate(-90)" font-size="22" textLength="17.00" lengthAdjust="spacingAndGlyphs">fs</text>
<text transform="translate(11.00 138.80) rotate(-90)" font-size="15">2</text>
<text transform="translate(729.20 160.20) rotate(-90)" font-size="22" textLength="121.60" lengthAdjust="spacingAndGlyphs">Reflectivity,</text>
<text transform="translate(730.00 33.80) rotate(-90)" font-size="25" textLength="23.40" lengthAdjust="spacingAndGlyphs">%</text>
</svg>
</body></html>
